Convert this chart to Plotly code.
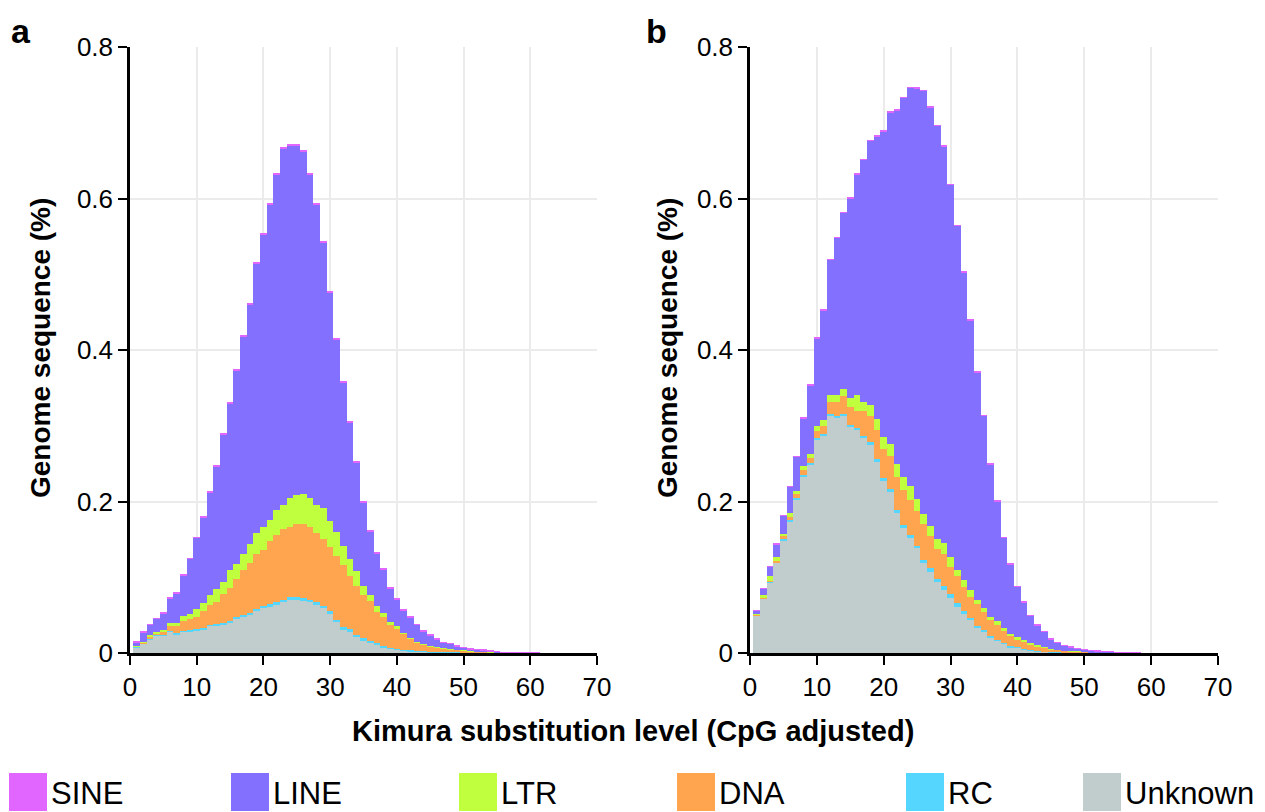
import plotly.graph_objects as go

# ---------------- data (values in % of genome per 1-unit Kimura bin) ----------------
categories = ["Unknown", "RC", "DNA", "LTR", "LINE", "SINE"]
colors = {"SINE": "#E066FF", "LINE": "#8470FF", "LTR": "#C0FF3E",
          "DNA": "#FFA54F", "RC": "#54D6FF", "Unknown": "#C1CDCD"}
legend_order = ["SINE", "LINE", "LTR", "DNA", "RC", "Unknown"]
x_ticks = [0, 10, 20, 30, 40, 50, 60, 70]
y_ticks = [0, 0.2, 0.4, 0.6, 0.8]
y_ticklabels = ["0", "0.2", "0.4", "0.6", "0.8"]

# ---- panel a ----
unknown_a = [0.0075, 0.012, 0.018, 0.023, 0.023, 0.028, 0.025, 0.028, 0.029, 0.030,
             0.031, 0.036, 0.036, 0.038, 0.040, 0.045, 0.048, 0.050, 0.055, 0.059,
             0.061, 0.064, 0.067, 0.070, 0.070, 0.069, 0.067, 0.064, 0.059, 0.052,
             0.041, 0.031, 0.029, 0.022, 0.017, 0.014, 0.011, 0.0075, 0.0057, 0.004,
             0.003, 0.0026, 0.002, 0.0015, 0.0012, 0.001, 0.0008, 0.0006, 0.0005, 0.0004,
             0.0003, 0.0002, 0.0002, 0.0001, 0.0001, 0.0001, 0.0001, 0.0, 0.0, 0.0, 0.0]
rc_a = [0.0005, 0.0008, 0.001, 0.001, 0.001, 0.0012, 0.0012, 0.0012, 0.0013, 0.0015,
        0.0015, 0.0016, 0.0018, 0.002, 0.0022, 0.0025, 0.0028, 0.003, 0.0033, 0.0035,
        0.0035, 0.0035, 0.0035, 0.0035, 0.0035, 0.0035, 0.0035, 0.0034, 0.0033, 0.0032,
        0.003, 0.0028, 0.0026, 0.0024, 0.0022, 0.002, 0.0018, 0.0016, 0.0014, 0.0012,
        0.001, 0.0009, 0.0008, 0.0007, 0.0006, 0.0005, 0.0004, 0.0003, 0.0003, 0.0002,
        0.0002, 0.0001, 0.0001, 0.0001, 0.0, 0.0, 0.0, 0.0, 0.0, 0.0, 0.0]
dna_a = [0.0004, 0.0009, 0.0026, 0.002, 0.0046, 0.0058, 0.0088, 0.0128, 0.0142, 0.0165,
         0.0225, 0.0254, 0.0292, 0.038, 0.0438, 0.0505, 0.0592, 0.066, 0.0727, 0.0735,
         0.0835, 0.0885, 0.0935, 0.0935, 0.0965, 0.0975, 0.0955, 0.0916, 0.0877, 0.0848,
         0.084, 0.0822, 0.0704, 0.0646, 0.0578, 0.052, 0.0412, 0.0379, 0.0299, 0.0268,
         0.022, 0.0155, 0.0112, 0.0088, 0.0072, 0.0055, 0.0048, 0.0041, 0.0032, 0.0029,
         0.0021, 0.0018, 0.0014, 0.0011, 0.0008, 0.0006, 0.0004, 0.0003, 0.0002, 0.0001, 0.0001]
ltr_a = [0.001, 0.0013, 0.0024, 0.002, 0.0024, 0.004, 0.004, 0.007, 0.0075, 0.010,
         0.011, 0.014, 0.018, 0.016, 0.023, 0.020, 0.021, 0.025, 0.027, 0.030,
         0.028, 0.033, 0.032, 0.037, 0.038, 0.040, 0.039, 0.037, 0.041, 0.034,
         0.032, 0.025, 0.022, 0.019, 0.012, 0.009, 0.008, 0.006, 0.004, 0.003,
         0.001, 0.001, 0.001, 0.001, 0.0005, 0.0005, 0.0005, 0.0003, 0.0002, 0.0002,
         0.0002, 0.0001, 0.0001, 0.0001, 0.0001, 0.0001, 0.0, 0.0, 0.0, 0.0, 0.0]
line_a = [0.0047, 0.0122, 0.0132, 0.0172, 0.0212, 0.0332, 0.0402, 0.0532, 0.0722, 0.0942,
          0.1135, 0.1355, 0.1615, 0.1945, 0.2205, 0.2545, 0.2865, 0.3165, 0.3565, 0.3865,
          0.4155, 0.4425, 0.4695, 0.4665, 0.4625, 0.4515, 0.4265, 0.3965, 0.3505, 0.3025,
          0.2545, 0.2165, 0.1805, 0.1435, 0.1095, 0.0835, 0.070, 0.057, 0.044, 0.036,
          0.029, 0.027, 0.022, 0.017, 0.0135, 0.0105, 0.007, 0.0072, 0.005, 0.0033,
          0.002, 0.0018, 0.0019, 0.0008, 0.0004, 0.0003, 0.0004, 0.0003, 0.0003, 0.0002, 0.0002]
sine_a = [0.0008, 0.0008, 0.0008, 0.0008, 0.0008, 0.0008, 0.0008, 0.0008, 0.0008, 0.0008,
          0.0015, 0.0015, 0.0015, 0.0015, 0.0015, 0.0015, 0.0015, 0.0015, 0.0015, 0.0015,
          0.0015, 0.0015, 0.0015, 0.0015, 0.0015, 0.0015, 0.0015, 0.0015, 0.0015, 0.0015,
          0.0015, 0.0015, 0.0015, 0.0015, 0.0015, 0.0015, 0.001, 0.001, 0.001, 0.001,
          0.001, 0.001, 0.001, 0.001, 0.001, 0.001, 0.0005, 0.0005, 0.0005, 0.0005,
          0.0005, 0.0005, 0.0005, 0.0005, 0.0005, 0.0002, 0.0002, 0.0002, 0.0002, 0.0001, 0.0001]

# ---- panel b ----
unknown_b = [0.049, 0.0715, 0.093, 0.119, 0.149, 0.174, 0.203, 0.233, 0.249, 0.282,
             0.287, 0.314, 0.311, 0.314, 0.299, 0.295, 0.284, 0.275, 0.252, 0.227,
             0.213, 0.186, 0.166, 0.153, 0.138, 0.120, 0.107, 0.094, 0.083, 0.072,
             0.061, 0.052, 0.044, 0.033, 0.028, 0.021, 0.016, 0.012, 0.0075, 0.0066,
             0.0044, 0.003, 0.0022, 0.0015, 0.001, 0.0008, 0.0006, 0.0005, 0.0004, 0.0003,
             0.0002, 0.0001, 0.0001, 0.0001, 0.0, 0.0, 0.0, 0.0]
rc_b = [0.0005, 0.0007, 0.0008, 0.001, 0.001, 0.0012, 0.0013, 0.0014, 0.0015, 0.0018,
        0.0018, 0.0015, 0.0015, 0.0013, 0.0026, 0.0022, 0.0026, 0.0035, 0.0035, 0.0044,
        0.003, 0.0022, 0.0026, 0.0026, 0.003, 0.0026, 0.0053, 0.0035, 0.0053, 0.006,
        0.0044, 0.004, 0.0026, 0.0022, 0.0018, 0.0018, 0.0013, 0.0009, 0.0013, 0.0008,
        0.0007, 0.0006, 0.0005, 0.0004, 0.0003, 0.0003, 0.0002, 0.0002, 0.0001, 0.0001,
        0.0001, 0.0, 0.0, 0.0, 0.0, 0.0, 0.0, 0.0]
dna_b = [0.001, 0.0008, 0.0006, 0.001, 0.004, 0.0048, 0.0057, 0.0066, 0.0075, 0.0092,
         0.0112, 0.0165, 0.0185, 0.0237, 0.0234, 0.0228, 0.0334, 0.0345, 0.0385, 0.0376,
         0.044, 0.0448, 0.0464, 0.0464, 0.047, 0.0474, 0.0427, 0.0395, 0.0427, 0.036,
         0.0361, 0.031, 0.0274, 0.0298, 0.0242, 0.0202, 0.0202, 0.0161, 0.0132, 0.0103,
         0.0089, 0.0074, 0.0063, 0.0047, 0.0037, 0.0029, 0.0022, 0.0017, 0.0013, 0.001,
         0.0007, 0.0006, 0.0004, 0.0003, 0.0002, 0.0001, 0.0, 0.0]
ltr_b = [0.001, 0.004, 0.0075, 0.006, 0.003, 0.005, 0.004, 0.006, 0.005, 0.007,
         0.008, 0.008, 0.009, 0.010, 0.012, 0.020, 0.012, 0.015, 0.015, 0.016,
         0.016, 0.016, 0.018, 0.018, 0.015, 0.014, 0.013, 0.013, 0.014, 0.013,
         0.0085, 0.009, 0.009, 0.005, 0.005, 0.004, 0.0045, 0.004, 0.0036, 0.0033,
         0.003, 0.002, 0.001, 0.0009, 0.0005, 0.0003, 0.0002, 0.0002, 0.0002, 0.0001,
         0.0001, 0.0, 0.0, 0.0, 0.0, 0.0, 0.0, 0.0]
line_b = [0.0045, 0.0075, 0.012, 0.0165, 0.0245, 0.0345, 0.045, 0.063, 0.090, 0.115,
          0.144, 0.179, 0.208, 0.232, 0.263, 0.292, 0.319, 0.348, 0.373, 0.404,
          0.438, 0.467, 0.500, 0.526, 0.542, 0.558, 0.552, 0.546, 0.524, 0.491,
          0.454, 0.406, 0.356, 0.300, 0.254, 0.202, 0.1583, 0.1193, 0.0917, 0.0663,
          0.0498, 0.0363, 0.0268, 0.0205, 0.0128, 0.009, 0.0065, 0.0051, 0.0034, 0.0026,
          0.0021, 0.0017, 0.0013, 0.001, 0.0006, 0.0004, 0.0003, 0.0002]
sine_b = [0.0005, 0.0005, 0.0005, 0.0005, 0.0005, 0.0005, 0.001, 0.001, 0.001, 0.001,
          0.001, 0.001, 0.001, 0.001, 0.001, 0.001, 0.001, 0.001, 0.001, 0.001,
          0.001, 0.001, 0.001, 0.001, 0.001, 0.001, 0.001, 0.001, 0.001, 0.001,
          0.001, 0.001, 0.001, 0.001, 0.001, 0.001, 0.0007, 0.0007, 0.0007, 0.0007,
          0.0007, 0.0007, 0.0007, 0.0007, 0.0007, 0.0007, 0.0003, 0.0003, 0.0003, 0.0003,
          0.0003, 0.0003, 0.0003, 0.0003, 0.0003, 0.0003, 0.0001, 0.0001]

panel_a = {"Unknown": unknown_a, "RC": rc_a, "DNA": dna_a, "LTR": ltr_a, "LINE": line_a, "SINE": sine_a}
panel_b = {"Unknown": unknown_b, "RC": rc_b, "DNA": dna_b, "LTR": ltr_b, "LINE": line_b, "SINE": sine_b}

# ---------------- figure ----------------
# The page places the figure 8 px from the top-left corner (body margin),
# so the figure is 8 px smaller and all page positions are shifted back by 8 px.
PAGE_OFF = 8
W, H = 1265 - PAGE_OFF, 812 - PAGE_OFF
FONT = "Liberation Sans, Arial, Helvetica, sans-serif"

def px_x(p):
    return (p - PAGE_OFF) / W

def px_y(p):
    return 1 - (p - PAGE_OFF) / H

fig = go.Figure()

for data, xa, ya in [(panel_a, "x", "y"), (panel_b, "x2", "y2")]:
    for cat in categories:
        vals = data[cat]
        kimura = list(range(1, len(vals) + 1))
        fig.add_trace(go.Bar(
            x=kimura, y=vals, name=cat, width=1,
            marker=dict(color=colors[cat], line=dict(width=0)),
            xaxis=xa, yaxis=ya, showlegend=False, hoverinfo="x+y+name"))

axis_common = dict(
    showline=True, linecolor="black", linewidth=2.5,
    ticks="outside", ticklen=9, tickwidth=2, tickcolor="black",
    showgrid=True, gridcolor="#EBEBEB", gridwidth=2,
    zeroline=False, automargin=False,
    tickfont=dict(family=FONT, size=26, color="black"),
)

xdom_a = [px_x(130), px_x(597)]
xdom_b = [px_x(750), px_x(1218)]
ydom = [px_y(653), px_y(47)]

fig.update_layout(
    width=W, height=H, autosize=False,
    margin=dict(l=0, r=0, t=0, b=0, pad=0, autoexpand=False),
    paper_bgcolor="white", plot_bgcolor="white",
    barmode="stack", bargap=0,
    showlegend=False,
    xaxis=dict(domain=xdom_a, range=[0, 70], tickvals=x_ticks, anchor="y", **axis_common),
    yaxis=dict(domain=ydom, range=[0, 0.8], tickvals=y_ticks, ticktext=y_ticklabels,
               anchor="x", **axis_common),
    xaxis2=dict(domain=xdom_b, range=[0, 70], tickvals=x_ticks, anchor="y2", **axis_common),
    yaxis2=dict(domain=ydom, range=[0, 0.8], tickvals=y_ticks, ticktext=y_ticklabels,
                anchor="x2", **axis_common),
)

annotations = []
# panel letters
for letter, cx in [("a", 21), ("b", 656)]:
    annotations.append(dict(text="<b>%s</b>" % letter, x=px_x(cx), y=px_y(10), xref="paper",
                            yref="paper", xanchor="center", yanchor="top", showarrow=False,
                            font=dict(family=FONT, size=34, color="black")))
# y titles
for cx in [41, 668]:
    annotations.append(dict(text="<b>Genome sequence (%)</b>", x=px_x(cx), y=px_y(348),
                            xref="paper", yref="paper", xanchor="center", yanchor="middle",
                            showarrow=False, textangle=-90,
                            font=dict(family=FONT, size=28, color="black")))
# x title
annotations.append(dict(text="<b>Kimura substitution level (CpG adjusted)</b>",
                        x=px_x(633), y=px_y(731), xref="paper", yref="paper",
                        xanchor="center", yanchor="middle", showarrow=False,
                        font=dict(family=FONT, size=29, color="black")))

# custom legend
shapes = []
swatch_left = [9, 231, 459, 677, 906, 1083]
for name, left in zip(legend_order, swatch_left):
    shapes.append(dict(type="rect", xref="paper", yref="paper",
                       x0=px_x(left), x1=px_x(left + 38), y0=px_y(811), y1=px_y(773),
                       fillcolor=colors[name], line=dict(width=0)))
    annotations.append(dict(text=name, x=px_x(left + 40), y=px_y(793), xref="paper", yref="paper",
                            xanchor="left", yanchor="middle", showarrow=False,
                            font=dict(family=FONT, size=31, color="black")))

fig.update_layout(annotations=annotations, shapes=shapes)

fig.write_html("out.html")
